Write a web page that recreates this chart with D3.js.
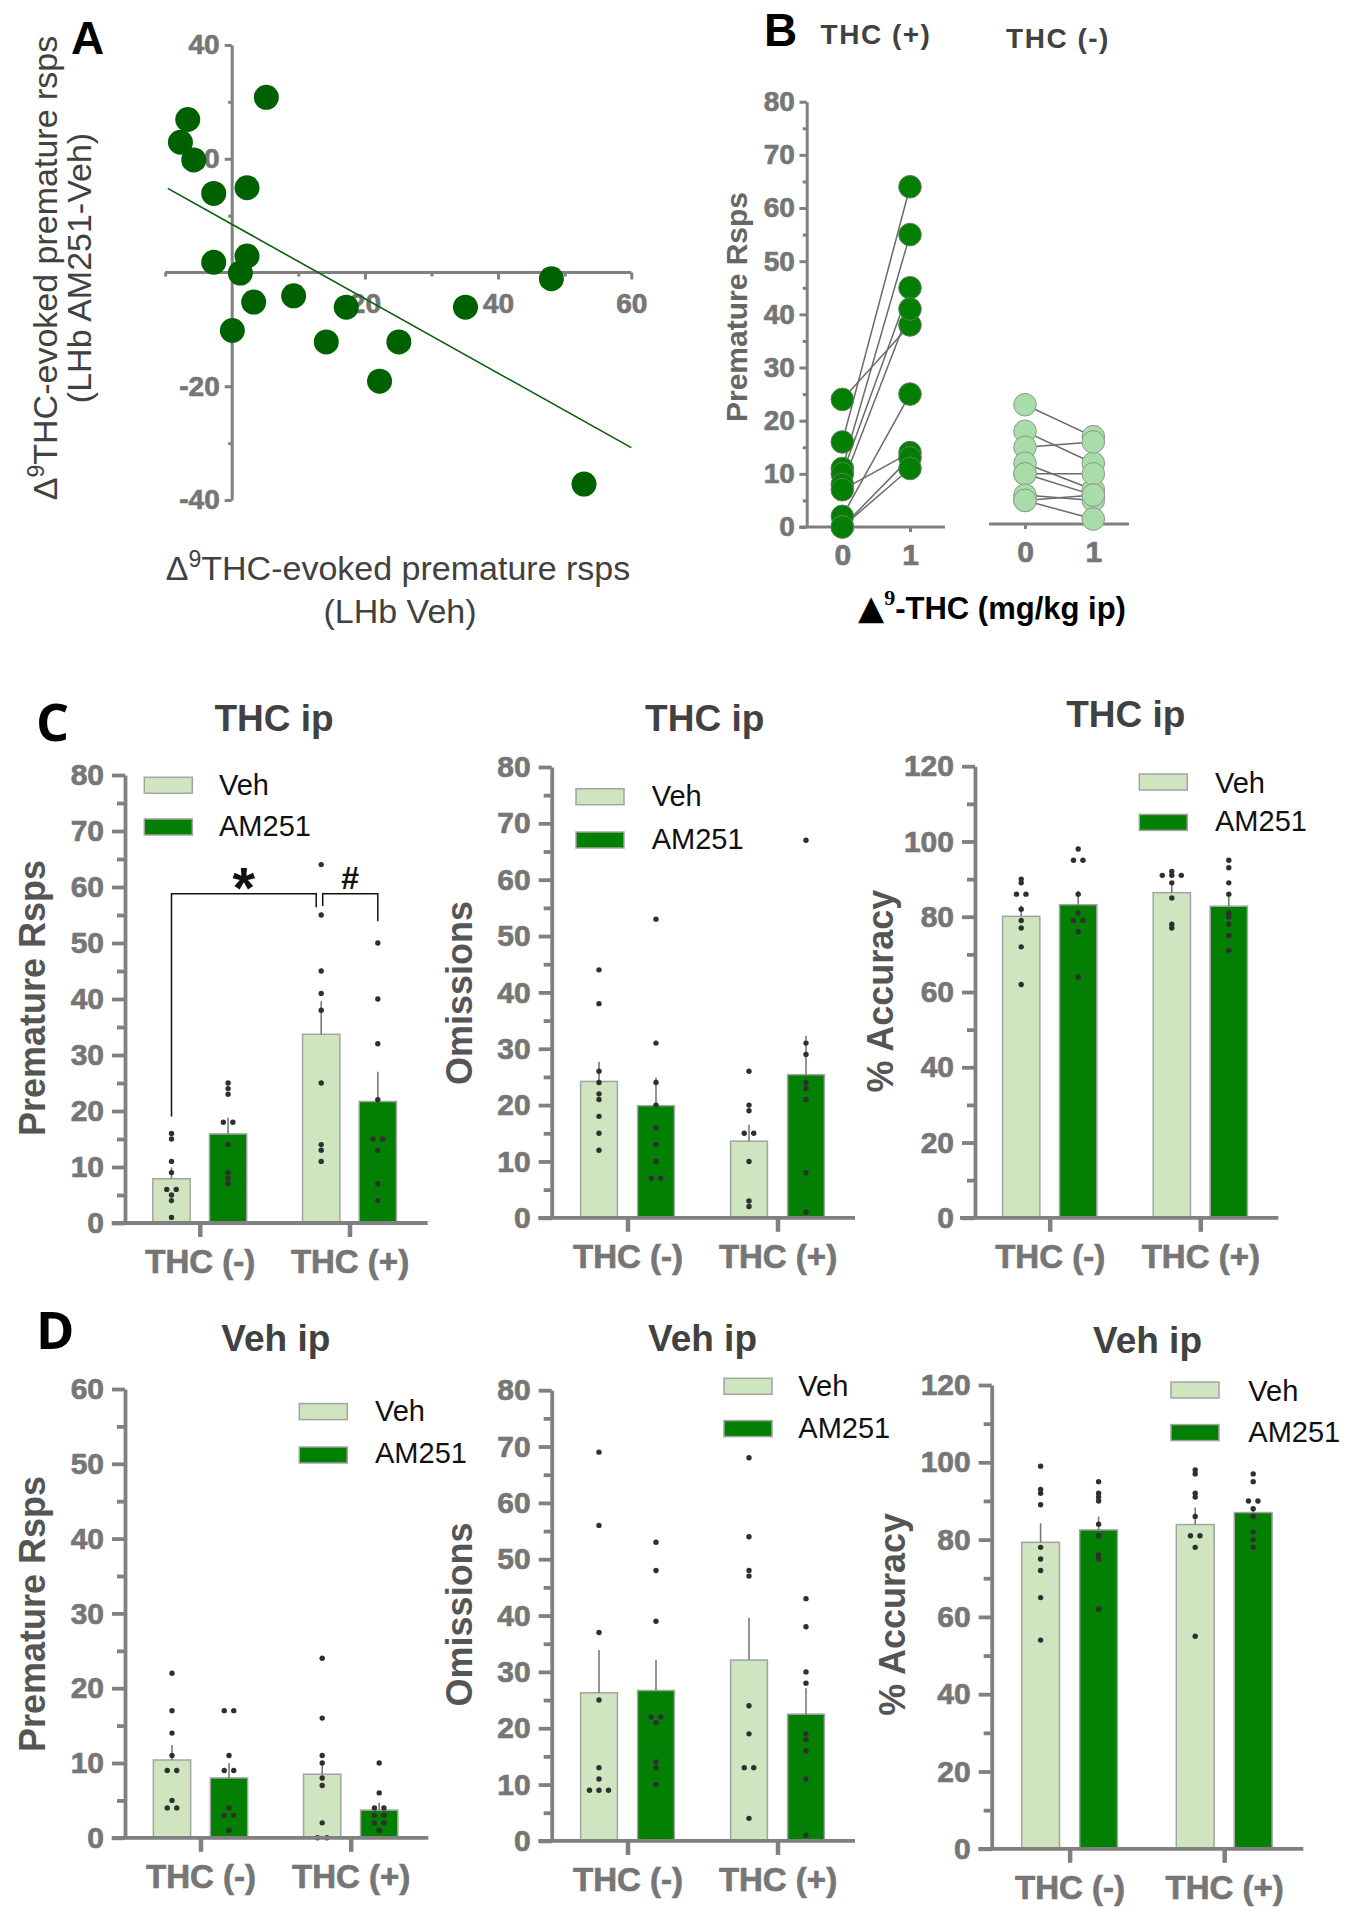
<!DOCTYPE html>
<html><head><meta charset="utf-8">
<script src="https://cdn.jsdelivr.net/npm/d3@7"></script>
<style>
body{margin:0;background:#fff}
svg{display:block}
text{font-family:"Liberation Sans",Arial,Helvetica,sans-serif}
</style></head>
<body><svg id="fig" width="1353" height="1920"></svg>
<script>
// ================= DATA =================
// Panel A: scatter (x = THC-evoked premature rsps, LHb Veh; y = LHb AM251 - Veh)
const aVeh  = [5.2,-6.6,-7.7,-5.7,-2.7,2.3,-2.7,2.3,1.3,3.3,9.3,0.1,17.2,14.2,25.1,22.2,35.1,48.0,52.9];
const aDiff = [30.8,26.9,22.9,19.8,13.9,14.9,1.8,2.9,-0.1,-5.2,-4.1,-10.2,-6.1,-12.2,-12.2,-19.1,-6.1,-1.1,-37.2];
const aFit  = {slope:-0.655, intercept:8.5, xMin:-9.6, xMax:60};

// Panel B: paired premature responses, 0 vs 1 mg/kg THC
const doses = [0, 1];
const thcPlus0  = [24,16,11,10,8,7,2,0,0];
const thcPlus1  = [38,64,55,45,41,14,25,13,11];
const thcMinus0 = [23,18,15,12,10,10,6,5,5];
const thcMinus1 = [17,12,16,7,10,6,5,6,1.5];

// Panels C/D: order of cells = THC(-)Veh, THC(-)AM251, THC(+)Veh, THC(+)AM251
const groups = ["THC (-)", "THC (+)"];
const series = ["Veh", "AM251"];

const cPremMean = [7.9, 15.9, 33.7, 21.7];
const cPremTop  = [9.9, 18.8, 39.6, 27.0];
const cPremPts  = [[16,15,11,9,6,6,5,4,1],[25,24,23,18,18,14,9,8,7],[64,55,45,41,38,25,14,13,11],[50,40,32,22,15,15,13,7,4]];
const cOmiMean  = [24.2, 19.9, 13.6, 25.4];
const cOmiTop   = [27.7, 24.9, 16.5, 32.3];
const cOmiPts   = [[44,38,26,24,22,21,18,15,12],[53,31,24,20,16,13,10,7,7],[26,20,19,15,15,10,3,2],[67,31,29,24,23,21,8,1]];
const cAccMean  = [80.1, 83.2, 86.4, 82.8];
const cAccTop   = [83.0, 86.9, 89.3, 86.0];
const cAccPts   = [[90,89,86,86,82,79,77,72,62],[98,95,95,86,81,79,79,76,64],[92,91,91,91,89,85,78,77],[95,93,89,86,81,80,78,75,71]];

const dPremMean = [10.4, 8.0, 8.5, 3.7];
const dPremTop  = [12.4, 10.0, 10.3, 4.7];
const dPremPts  = [[22,17,14,11,9,9,5,4,4],[17,17,11,9,9,4,3,3,1],[24,16,11,10,8,7,2,0,0],[10,6,4,4,3,3,2,2,1]];
const dOmiMean  = [26.3, 26.7, 32.1, 22.5];
const dOmiTop   = [33.9, 32.1, 39.6, 27.1];
const dOmiPts   = [[69,56,37,25,13,11,9,9,9],[53,48,39,22,22,21,14,13,10],[68,54,48,47,24,19,13,13,4],[43,38,30,28,19,18,16,11,1]];
const dAccMean  = [79.3, 82.5, 83.9, 87.0];
const dAccTop   = [84.2, 86.0, 88.3, 88.0];
const dAccPts   = [[99,93,92,89,78,75,72,65,54],[95,92,91,90,84,81,76,75,62],[98,97,92,91,86,81,81,78,55],[97,95,90,90,88,86,82,80,78]];

// significance brackets on C premature (values in data units)
const cBrackets = [
  {from:[0,0], to:[1,0], top:58.8, footFrom:19, footTo:56.4, dxFrom:0, dxTo:-5, label:"*"},
  {from:[1,0], to:[1,1], top:58.8, footFrom:56.6, footTo:53.9, dxFrom:1.5, dxTo:0, label:"#"}
];

// ================= STYLE =================
const AX = "#808080", TICKTXT = "#767676", TITLE = "#414141", YT = "#555555";
const LIGHT = "#cfe5c0", DARK = "#037f03", BARSTROKE = "#a3a3a3";
const svg = d3.select("#fig");

function styleAxis(g, sw, fs) {
  g.selectAll(".domain").attr("stroke", AX).attr("stroke-width", sw);
  g.selectAll(".tick line").attr("stroke", AX).attr("stroke-width", sw);
  g.selectAll(".tick text").attr("fill", TICKTXT)
    .attr("stroke", TICKTXT).attr("stroke-width", 0.7)
    .style("font-size", fs + "px").style("font-weight", "bold")
    .style("font-family", '"Liberation Sans",Arial,sans-serif');
}
function yAxisLeft(g, y, x, major, minor, o) {
  const gM = g.append("g").attr("transform", `translate(${x},0)`)
    .call(d3.axisLeft(y).tickValues(major).tickSize(o.major).tickPadding(o.pad)
      .tickSizeOuter(0).tickFormat(o.fmt || (d => String(d))));
  styleAxis(gM, o.sw, o.fs);
  const gm = g.append("g").attr("transform", `translate(${x},0)`)
    .call(d3.axisLeft(y).tickValues(minor).tickSize(o.minor).tickSizeOuter(0).tickFormat(""));
  gm.select(".domain").remove();
  styleAxis(gm, o.sw, o.fs);
  return gM;
}
function rotTitle(g, x, y, s, fs, fill, weight) {
  return g.append("text").attr("transform", `translate(${x},${y}) rotate(-90)`)
    .attr("text-anchor", "middle").attr("fill", fill)
    .style("font-size", fs + "px").style("font-weight", weight).text(s);
}

// ================= PANEL A =================
(function () {
  const g = svg.append("g");
  const x = d3.scaleLinear().domain([0, 60]).range([231.7, 631.3]);
  const y = d3.scaleLinear().domain([-40, 40]).range([500, 45]);
  yAxisLeft(g, y, x(0), [-40, -20, 20, 40], [-30, -10, 10, 30],
    {major: 7, minor: 3.5, pad: 5, sw: 3, fs: 28});
  const gx = g.append("g").attr("transform", `translate(0,${y(0)})`)
    .call(d3.axisBottom(x).tickValues([20, 40, 60]).tickSize(7).tickPadding(14).tickSizeOuter(0));
  gx.select(".domain").remove();
  styleAxis(gx, 3, 28);
  const gx2 = g.append("g").attr("transform", `translate(0,${y(0)})`)
    .call(d3.axisBottom(x).tickValues([-10, 10, 30, 50]).tickSize(4).tickFormat(""));
  gx2.select(".domain").remove();
  styleAxis(gx2, 3, 28);
  g.append("line").attr("x1", x(-10)).attr("x2", x(60)).attr("y1", y(0)).attr("y2", y(0))
    .attr("stroke", AX).attr("stroke-width", 3);
  g.append("line")
    .attr("x1", x(aFit.xMin)).attr("y1", y(aFit.intercept + aFit.slope * aFit.xMin))
    .attr("x2", x(aFit.xMax)).attr("y2", y(aFit.intercept + aFit.slope * aFit.xMax))
    .attr("stroke", "#0b5e0b").attr("stroke-width", 1.6);
  g.selectAll("circle.a").data(aVeh.map((v, i) => [v, aDiff[i]])).join("circle")
    .attr("cx", d => x(d[0])).attr("cy", d => y(d[1])).attr("r", 12.5).attr("fill", "#006100");
  const t1 = g.append("text").attr("x", 398).attr("y", 580).attr("text-anchor", "middle")
    .attr("fill", TITLE).style("font-size", "34px");
  t1.append("tspan").text("Δ");
  t1.append("tspan").attr("dy", -13).style("font-size", "23px").text("9");
  t1.append("tspan").attr("dy", 13).text("THC-evoked premature rsps");
  g.append("text").attr("x", 400).attr("y", 623).attr("text-anchor", "middle")
    .attr("fill", TITLE).style("font-size", "34px").text("(LHb Veh)");
  const t2 = g.append("text").attr("transform", "translate(57,268) rotate(-90)")
    .attr("text-anchor", "middle").attr("fill", TITLE).style("font-size", "34px");
  t2.append("tspan").text("Δ");
  t2.append("tspan").attr("dy", -13).style("font-size", "23px").text("9");
  t2.append("tspan").attr("dy", 13).text("THC-evoked premature rsps");
  g.append("text").attr("transform", "translate(91,268) rotate(-90)")
    .attr("text-anchor", "middle").attr("fill", TITLE).style("font-size", "34px").text("(LHb AM251-Veh)");
  g.append("text").attr("x", 71).attr("y", 54).style("font-size", "46px").style("font-weight", "bold")
    .attr("fill", "#000").text("A");
})();

// ================= PANEL B =================
(function () {
  const g = svg.append("g");
  const y = d3.scaleLinear().domain([0, 80]).range([527, 101.7]);
  const axX = 806.7;
  yAxisLeft(g, y, axX, d3.range(0, 81, 10), d3.range(5, 80, 10),
    {major: 7.3, minor: 4, pad: 4.5, sw: 3, fs: 28});
  const xL = d3.scalePoint().domain(doses).range([842.3, 910]);
  const xR = d3.scalePoint().domain(doses).range([1025, 1093.3]);
  const baseR = y(0) - 3;
  g.append("line").attr("x1", axX - 7.3).attr("x2", 945).attr("y1", y(0)).attr("y2", y(0))
    .attr("stroke", AX).attr("stroke-width", 3);
  g.append("line").attr("x1", 989).attr("x2", 1129).attr("y1", baseR).attr("y2", baseR)
    .attr("stroke", AX).attr("stroke-width", 3);
  [[xL, y(0)], [xR, baseR]].forEach(([xs, by]) => {
    const ga = g.append("g").attr("transform", `translate(0,${by})`)
      .call(d3.axisBottom(xs).tickSize(5).tickPadding(12).tickSizeOuter(0));
    ga.select(".domain").remove();
    styleAxis(ga, 3, 30);
  });
  const pairs = (a, b) => a.map((v, i) => [v, b[i]]);
  const drawGroup = (xs, p0, p1, fill, stroke) => {
    const pr = pairs(p0, p1);
    g.selectAll(null).data(pr).join("line")
      .attr("x1", xs(0)).attr("x2", xs(1)).attr("y1", d => y(d[0])).attr("y2", d => y(d[1]))
      .attr("stroke", "#6a6a6a").attr("stroke-width", 1.5);
    const pts = pr.flatMap(d => [[0, d[0]], [1, d[1]]]);
    g.selectAll(null).data(pts).join("circle")
      .attr("cx", d => xs(d[0])).attr("cy", d => y(d[1])).attr("r", 11.3)
      .attr("fill", fill).attr("stroke", stroke).attr("stroke-width", 1);
  };
  drawGroup(xL, thcPlus0, thcPlus1, "#037f03", "#5f7f5f");
  drawGroup(xR, thcMinus0, thcMinus1, "#a8dca8", "#8a9a8a");
  g.append("text").attr("x", 764).attr("y", 46).style("font-size", "46px").style("font-weight", "bold").text("B");
  g.append("text").attr("x", 876).attr("y", 44).attr("text-anchor", "middle").attr("fill", TITLE)
    .style("font-size", "28px").style("font-weight", "bold").style("letter-spacing", "1.5px").text("THC (+)");
  g.append("text").attr("x", 1058).attr("y", 48).attr("text-anchor", "middle").attr("fill", TITLE)
    .style("font-size", "28px").style("font-weight", "bold").style("letter-spacing", "1.5px").text("THC (-)");
  rotTitle(g, 747, 307, "Premature Rsps", 30, "#666", "bold");
  const xt = g.append("text").attr("x", 858).attr("y", 619).attr("fill", "#000")
    .style("font-size", "31px").style("font-weight", "bold");
  xt.append("tspan").style("font-family", '"DejaVu Sans",sans-serif').style("font-size", "34px").text("▲");
  xt.append("tspan").attr("dy", -14).style("font-size", "22px").style("font-family", '"Liberation Serif",serif').text("9");
  xt.append("tspan").attr("dy", 14).text("-THC (mg/kg ip)");
})();

// ================= BAR PANELS =================
function barPanel(L, mean, top, pts) {
  const g = svg.append("g");
  const y = d3.scaleLinear().domain([0, L.yMax]).range([L.y0, L.yTop]);
  const xg = d3.scalePoint().domain(groups).range(L.centers);
  const xs = d3.scalePoint().domain(series).range([-L.off, L.off]);
  const cells = [];
  groups.forEach((gr, gi) => series.forEach((se, si) => {
    const k = gi * 2 + si;
    cells.push({gr, se, mean: mean[k], top: top[k], pts: pts[k], cx: xg(gr) + xs(se)});
  }));
  g.selectAll(null).data(cells).join("rect")
    .attr("x", d => d.cx - L.bw / 2).attr("width", L.bw)
    .attr("y", d => y(d.mean)).attr("height", d => y(0) - y(d.mean))
    .attr("fill", d => d.se === "Veh" ? LIGHT : DARK)
    .attr("stroke", BARSTROKE).attr("stroke-width", 1.5);
  g.selectAll(null).data(cells).join("line")
    .attr("x1", d => d.cx).attr("x2", d => d.cx).attr("y1", d => y(d.mean)).attr("y2", d => y(d.top))
    .attr("stroke", "#7a7a7a").attr("stroke-width", 1.6);
  cells.forEach(c => {
    const counts = d3.rollup(c.pts, v => v.length, d => d);
    const seen = new Map();
    const dots = c.pts.map(v => {
      const n = counts.get(v), i = seen.get(v) || 0; seen.set(v, i + 1);
      return {v, dx: (i - (n - 1) / 2) * 9.5};
    });
    g.selectAll(null).data(dots).join("circle")
      .attr("cx", d => c.cx + d.dx).attr("cy", d => y(d.v)).attr("r", 2.7).attr("fill", "#2f2f2f");
  });
  yAxisLeft(g, y, L.axX, d3.range(0, L.yMax + 1, L.major), d3.range(L.major / 2, L.yMax, L.major),
    {major: 13, minor: 8, pad: 8, sw: 3.8, fs: 30});
  g.append("line").attr("x1", L.xLine[0]).attr("x2", L.xLine[1]).attr("y1", y(0)).attr("y2", y(0))
    .attr("stroke", AX).attr("stroke-width", 3.8);
  const gx = g.append("g").attr("transform", `translate(0,${y(0)})`)
    .call(d3.axisBottom(xg).tickSize(14).tickPadding(13).tickSizeOuter(0));
  gx.select(".domain").remove();
  styleAxis(gx, 4.5, 33);
  g.append("text").attr("x", L.title[1]).attr("y", L.title[2]).attr("text-anchor", "middle")
    .attr("fill", TITLE).style("font-size", "37px").style("font-weight", "bold").text(L.title[0]);
  rotTitle(g, L.ytitle[1], L.ytitle[2], L.ytitle[0], 36, YT, "bold");
  series.forEach((se, i) => {
    g.append("rect").attr("x", L.leg.sx).attr("y", L.leg.sy[i]).attr("width", 48).attr("height", 16)
      .attr("fill", se === "Veh" ? LIGHT : DARK).attr("stroke", BARSTROKE).attr("stroke-width", 1.5);
    g.append("text").attr("x", L.leg.tx).attr("y", L.leg.tb[i]).attr("fill", "#111")
      .style("font-size", "29px").text(se);
  });
  if (L.letter) g.append("text").attr("x", L.letter[1]).attr("y", L.letter[2]).attr("fill", "#000")
    .style("font-family", '"Open Sans",sans-serif').style("font-size", "52px").style("font-weight", "bold").text(L.letter[0]);
  return {g, y, xg, xs};
}

const C1 = barPanel({yMax: 80, major: 10, axX: 125, yTop: 775, y0: 1223, xLine: [111.7, 427.7],
  centers: [199.8, 349.5], off: 28.3, bw: 37.3, title: ["THC ip", 274, 731], ytitle: ["Premature Rsps", 45, 998],
  leg: {sx: 144.3, sy: [777.3, 819], tx: 219, tb: [794.7, 836.2]}, letter: ["C", 36, 741]},
  cPremMean, cPremTop, cPremPts);
barPanel({yMax: 80, major: 10, axX: 551.7, yTop: 767, y0: 1217.8, xLine: [538.3, 855],
  centers: [627.5, 777.5], off: 28.5, bw: 36.8, title: ["THC ip", 704.7, 731.4], ytitle: ["Omissions", 472.3, 993],
  leg: {sx: 576, sy: [788.7, 832], tx: 651.7, tb: [805.7, 849.2]}},
  cOmiMean, cOmiTop, cOmiPts);
barPanel({yMax: 120, major: 20, axX: 975, yTop: 766.2, y0: 1217.8, xLine: [960, 1278.3],
  centers: [1049.7, 1200.3], off: 28.5, bw: 37.3, title: ["THC ip", 1125.8, 727.4], ytitle: ["% Accuracy", 893.3, 991],
  leg: {sx: 1139.3, sy: [774, 814.4], tx: 1215, tb: [792.7, 831]}},
  cAccMean, cAccTop, cAccPts);
barPanel({yMax: 60, major: 10, axX: 125, yTop: 1389, y0: 1837.8, xLine: [111.7, 428.3],
  centers: [200.5, 350.7], off: 28.5, bw: 37.3, title: ["Veh ip", 275.8, 1351.4], ytitle: ["Premature Rsps", 45, 1614],
  leg: {sx: 299.3, sy: [1403.6, 1447], tx: 375, tb: [1420.6, 1463.3]}, letter: ["D", 36, 1349]},
  dPremMean, dPremTop, dPremPts);
barPanel({yMax: 80, major: 10, axX: 551.7, yTop: 1390.2, y0: 1840.9, xLine: [538.3, 855],
  centers: [627.5, 777.5], off: 28.5, bw: 36.8, title: ["Veh ip", 702.5, 1351.4], ytitle: ["Omissions", 472.3, 1614.4],
  leg: {sx: 724, sy: [1378.3, 1420.6], tx: 798.3, tb: [1396, 1438.4]}},
  dOmiMean, dOmiTop, dOmiPts);
barPanel({yMax: 120, major: 20, axX: 991.7, yTop: 1385, y0: 1848.8, xLine: [978.3, 1303.3],
  centers: [1069.6, 1224.2], off: 29, bw: 37.8, title: ["Veh ip", 1147.5, 1353.4], ytitle: ["% Accuracy", 905, 1614.4],
  leg: {sx: 1171, sy: [1382, 1424.6], tx: 1248.3, tb: [1400.8, 1442.3]}},
  dAccMean, dAccTop, dAccPts);

// significance brackets on C premature
(function () {
  const {g, y, xg, xs} = C1;
  const cx = (p, dx) => xg(groups[p[0]]) + xs(series[p[1]]) + dx;
  cBrackets.forEach(b => {
    const x1 = cx(b.from, b.dxFrom), x2 = cx(b.to, b.dxTo);
    g.append("path")
      .attr("d", `M${x1},${y(b.footFrom)}V${y(b.top)}H${x2}V${y(b.footTo)}`)
      .attr("fill", "none").attr("stroke", "#111").attr("stroke-width", 1.5);
    const isStar = b.label === "*";
    g.append("text").attr("x", (x1 + x2) / 2).attr("y", isStar ? y(b.top) + 14 : y(b.top) - 5)
      .attr("text-anchor", "middle").attr("fill", "#111")
      .style("font-size", isStar ? "58px" : "32px").style("font-weight", "bold").text(b.label);
  });
})();
</script></body></html>
